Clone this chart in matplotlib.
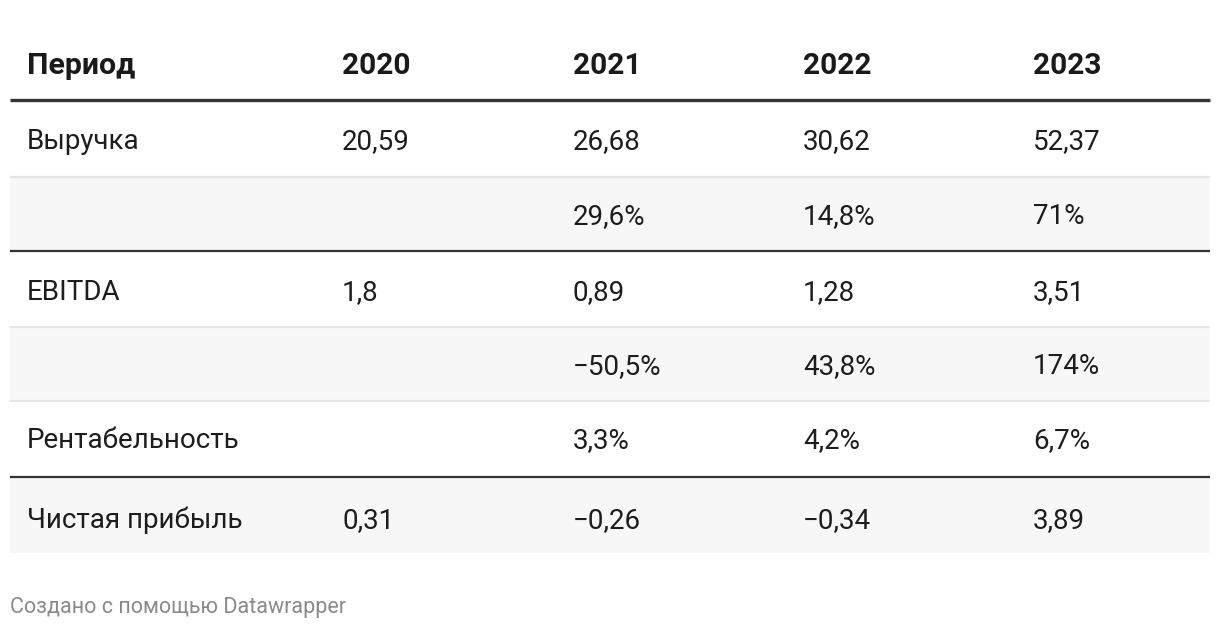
import matplotlib.pyplot as plt
from matplotlib.patches import Rectangle

plt.rcParams['font.family'] = ['Roboto', 'DejaVu Sans']

# Table data
header = 'Период'
periods = ['2020', '2021', '2022', '2023']
row_labels = ['Выручка', '', 'EBITDA', '', 'Рентабельность', 'Чистая прибыль']
revenue = ['20,59', '26,68', '30,62', '52,37']
revenue_growth = ['', '29,6%', '14,8%', '71%']
ebitda = ['1,8', '0,89', '1,28', '3,51']
ebitda_growth = ['', '\u221250,5%', '43,8%', '174%']
margin = ['', '3,3%', '4,2%', '6,7%']
net_income = ['0,31', '\u22120,26', '\u22120,34', '3,89']
footer = 'Создано с помощью Datawrapper'

rows = [revenue, revenue_growth, ebitda, ebitda_growth, margin, net_income]

# Layout in pixels
W, H = 1220, 630
left, right = 10, 1210
label_x = 27
col_x = [342, 573, 803, 1033]
row_edges = [101, 177, 251, 327, 401, 477, 553]
baselines = [149, 224, 300, 374, 448, 528]
shaded = [False, True, False, True, False, True]
# separator below each row: 'light', 'dark' or None
separators = ['light', 'dark', 'light', 'light', 'dark', None]

fig = plt.figure(figsize=(W / 100, H / 100), dpi=100)
ax = fig.add_axes([0, 0, 1, 1])
ax.set_xlim(0, W)
ax.set_ylim(H, 0)
ax.axis('off')

# header
ax.text(label_x, 74, header, fontsize=21.8, fontweight='bold', color='#1a1a1a', va='baseline')
for x, p in zip(col_x, periods):
    ax.text(x, 74, p, fontsize=21.5, fontweight='bold', color='#1a1a1a', va='baseline')
ax.plot([left, right], [100, 100], color='#333333', lw=2.4, solid_capstyle='butt')

for i, vals in enumerate(rows):
    top, bottom = row_edges[i], row_edges[i + 1]
    if shaded[i]:
        ax.add_patch(Rectangle((left, top), right - left, bottom - top, color='#f7f7f7', lw=0, zorder=0))
    ax.text(label_x, baselines[i], row_labels[i], fontsize=20, color='#1d1d1d', va='baseline')
    for x, v in zip(col_x, vals):
        ax.text(x, baselines[i], v, fontsize=20, color='#1d1d1d', va='baseline')
    if separators[i] == 'light':
        ax.plot([left, right], [bottom, bottom], color='#e6e6e6', lw=1.6, solid_capstyle='butt')
    elif separators[i] == 'dark':
        ax.plot([left, right], [bottom, bottom], color='#333333', lw=1.6, solid_capstyle='butt')

ax.text(left, 613, footer, fontsize=15.5, color='#8a8a8a', va='baseline')

fig.savefig('out.png', dpi=100)
